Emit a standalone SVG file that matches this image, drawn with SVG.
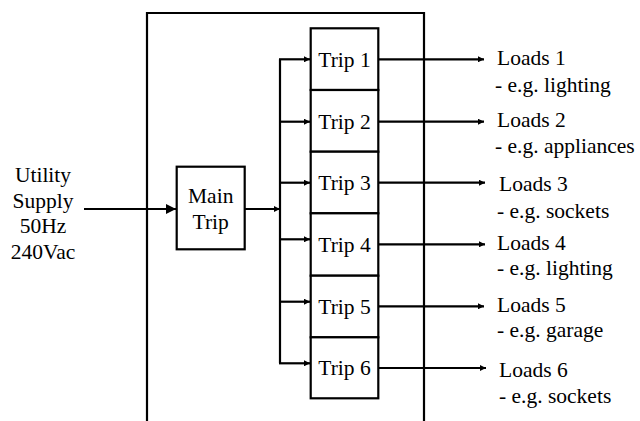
<svg xmlns="http://www.w3.org/2000/svg" width="640" height="421" viewBox="0 0 640 421">
<style>
text{font-family:'Liberation Serif','Times New Roman','DejaVu Serif',serif;font-size:21.5px;fill:#000}
.c{text-anchor:middle}
.box{fill:#fff;stroke:#000;stroke-width:2.2}
.ln{fill:none;stroke:#000;stroke-width:2.2}
</style>
<defs>
<marker id="ah" viewBox="0 0 10 10" refX="10" refY="5" markerWidth="8" markerHeight="6" markerUnits="userSpaceOnUse" orient="auto">
<path d="M0,0 L10,5 L0,10 z" fill="#000"/>
</marker>
<marker id="ahb" viewBox="0 0 10 10" refX="10" refY="5" markerWidth="12" markerHeight="10" markerUnits="userSpaceOnUse" orient="auto">
<path d="M0,0 L10,5 L0,10 z" fill="#000"/>
</marker>
</defs>
<rect width="640" height="421" fill="#fff"/>
<g id="enclosure">
<path class="ln" d="M147,421 V13 H424 V421"/>
</g>
<g id="connectors">
<line class="ln" x1="84" y1="209" x2="176" y2="209" marker-end="url(#ahb)"/>
<line class="ln" x1="245" y1="209" x2="280" y2="209" marker-end="url(#ah)"/>
<line class="ln" x1="280" y1="59.3" x2="280" y2="363.3"/>
<line class="ln" x1="279" y1="59.3" x2="310" y2="59.3" marker-end="url(#ah)"/>
<line class="ln" x1="280" y1="121.7" x2="310" y2="121.7" marker-end="url(#ah)"/>
<line class="ln" x1="280" y1="182.7" x2="310" y2="182.7" marker-end="url(#ah)"/>
<line class="ln" x1="280" y1="239.3" x2="310" y2="239.3" marker-end="url(#ah)"/>
<line class="ln" x1="280" y1="301.7" x2="310" y2="301.7" marker-end="url(#ah)"/>
<line class="ln" x1="279" y1="363.3" x2="310" y2="363.3" marker-end="url(#ah)"/>
<line class="ln" x1="378" y1="59.3" x2="484" y2="59.3" marker-end="url(#ah)"/>
<line class="ln" x1="378" y1="121.7" x2="484" y2="121.7" marker-end="url(#ah)"/>
<line class="ln" x1="378" y1="182.7" x2="485" y2="182.7" marker-end="url(#ah)"/>
<line class="ln" x1="378" y1="244.3" x2="485" y2="244.3" marker-end="url(#ah)"/>
<line class="ln" x1="378" y1="306.3" x2="484" y2="306.3" marker-end="url(#ah)"/>
<line class="ln" x1="378" y1="368" x2="486" y2="368" marker-end="url(#ah)"/>
</g>
<g id="supply">
<text class="c" x="43" y="182">Utility</text>
<text class="c" x="43" y="207.5">Supply</text>
<text class="c" x="43" y="233">50Hz</text>
<text class="c" x="43" y="258.5">240Vac</text>
</g>
<g id="main-trip">
<rect class="box" x="176.7" y="166.7" width="68" height="82.6"/>
<text class="c" x="210.7" y="203.3">Main</text>
<text class="c" x="210.7" y="229.3">Trip</text>
</g>
<g id="trip1"><rect class="box" x="310.7" y="28.3" width="67.6" height="61.7"/><text class="c" x="344.5" y="67">Trip 1</text></g>
<g id="trip2"><rect class="box" x="310.7" y="90" width="67.6" height="61.7"/><text class="c" x="344.5" y="128.7">Trip 2</text></g>
<g id="trip3"><rect class="box" x="310.7" y="151.7" width="67.6" height="61.6"/><text class="c" x="344.5" y="190">Trip 3</text></g>
<g id="trip4"><rect class="box" x="310.7" y="213.3" width="67.6" height="62.4"/><text class="c" x="344.5" y="251.5">Trip 4</text></g>
<g id="trip5"><rect class="box" x="310.7" y="275.7" width="67.6" height="61.6"/><text class="c" x="344.5" y="313.5">Trip 5</text></g>
<g id="trip6"><rect class="box" x="310.7" y="337.3" width="67.6" height="61"/><text class="c" x="344.5" y="375">Trip 6</text></g>
<g id="loads1"><text x="497" y="65">Loads 1</text><text x="495" y="91.7">- e.g. lighting</text></g>
<g id="loads2"><text x="497" y="126.7">Loads 2</text><text x="495" y="153">- e.g. appliances</text></g>
<g id="loads3"><text x="499" y="190.7">Loads 3</text><text x="497" y="218">- e.g. sockets</text></g>
<g id="loads4"><text x="497" y="250">Loads 4</text><text x="497" y="275">- e.g. lighting</text></g>
<g id="loads5"><text x="497" y="311.7">Loads 5</text><text x="497" y="337.3">- e.g. garage</text></g>
<g id="loads6"><text x="499" y="377.3">Loads 6</text><text x="499" y="403.3">- e.g. sockets</text></g>
</svg>
